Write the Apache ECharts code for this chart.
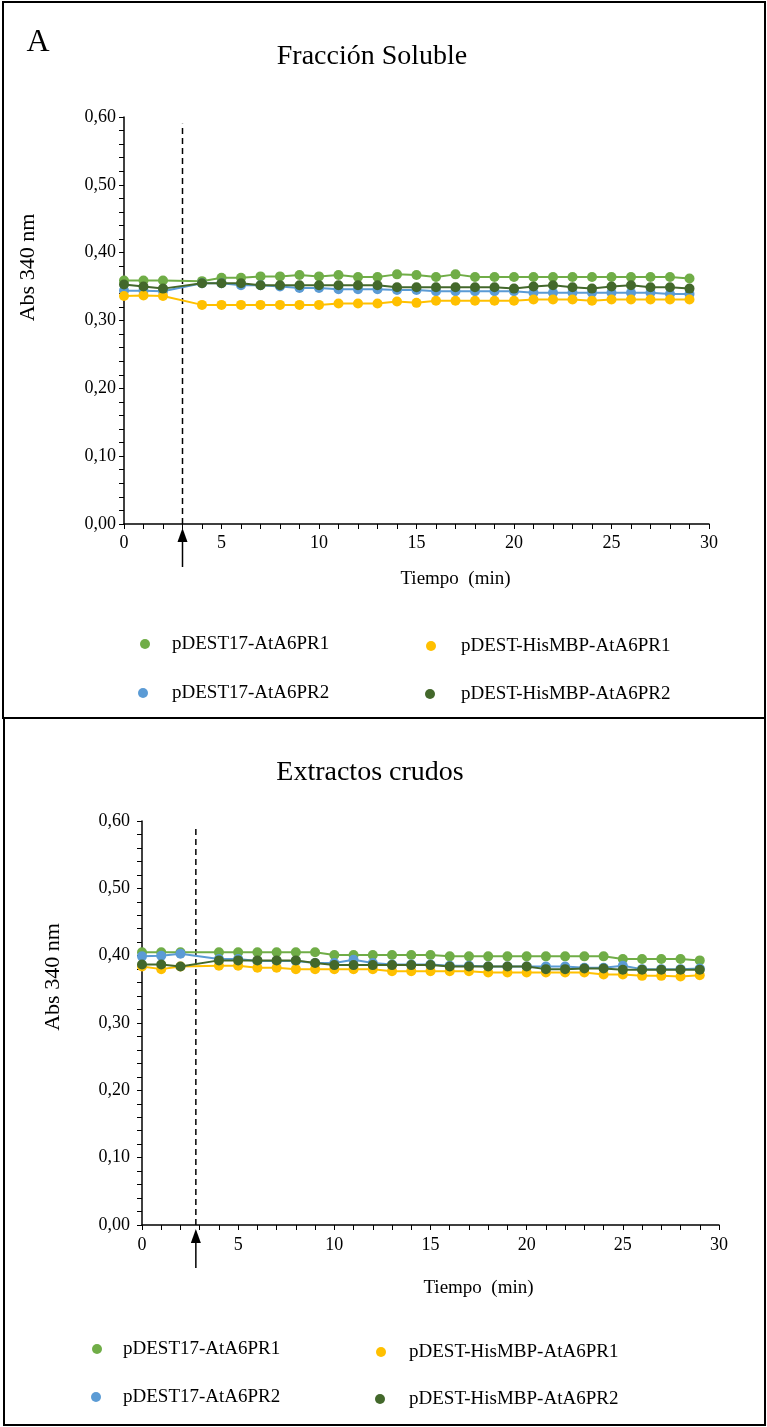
<!DOCTYPE html>
<html><head><meta charset="utf-8">
<script src="https://cdn.jsdelivr.net/npm/echarts@6/dist/echarts.min.js"></script>
<style>html,body{margin:0;padding:0;background:#fff}#c{width:767px;height:1427px}</style>
</head><body><div id="c"></div>
<script>
// ---- data ----
const times = [0,1,2,4,5,6,7,8,9,10,11,12,13,14,15,16,17,18,19,20,21,22,23,24,25,26,27,28,29];
const seriesNames = ['pDEST17-AtA6PR1','pDEST17-AtA6PR2','pDEST-HisMBP-AtA6PR1','pDEST-HisMBP-AtA6PR2'];
// Fracción Soluble
const solPDEST17_R1 = [0.359,0.359,0.359,0.358,0.363,0.363,0.365,0.365,0.367,0.365,0.367,0.364,0.364,0.368,0.367,0.364,0.368,0.364,0.364,0.364,0.364,0.364,0.364,0.364,0.364,0.364,0.364,0.364,0.362];
const solPDEST17_R2 = [0.344,0.344,0.343,0.355,0.355,0.352,0.352,0.350,0.348,0.348,0.346,0.346,0.346,0.345,0.345,0.343,0.343,0.343,0.343,0.343,0.341,0.341,0.341,0.341,0.341,0.341,0.341,0.339,0.339];
const solHisMBP_R1  = [0.336,0.337,0.336,0.323,0.323,0.323,0.323,0.323,0.323,0.323,0.325,0.325,0.325,0.328,0.326,0.329,0.329,0.329,0.329,0.329,0.331,0.331,0.331,0.329,0.331,0.331,0.331,0.331,0.331];
const solHisMBP_R2  = [0.353,0.350,0.347,0.355,0.355,0.355,0.352,0.352,0.352,0.352,0.352,0.352,0.352,0.349,0.349,0.349,0.349,0.349,0.349,0.347,0.350,0.352,0.349,0.347,0.350,0.352,0.349,0.349,0.347];
// Extractos crudos
const crudePDEST17_R1 = [0.405,0.405,0.405,0.405,0.405,0.405,0.405,0.405,0.405,0.401,0.401,0.401,0.401,0.401,0.401,0.399,0.399,0.399,0.399,0.399,0.399,0.399,0.399,0.399,0.395,0.395,0.395,0.395,0.393];
const crudePDEST17_R2 = [0.399,0.400,0.403,0.395,0.395,0.392,0.392,0.392,0.389,0.389,0.394,0.389,0.387,0.387,0.387,0.385,0.385,0.384,0.384,0.384,0.384,0.384,0.382,0.382,0.385,0.380,0.380,0.380,0.381];
const crudeHisMBP_R1  = [0.384,0.380,0.384,0.385,0.385,0.382,0.382,0.380,0.380,0.380,0.380,0.380,0.377,0.377,0.377,0.377,0.377,0.375,0.375,0.375,0.375,0.375,0.375,0.372,0.372,0.370,0.370,0.369,0.371];
const crudeHisMBP_R2  = [0.387,0.387,0.384,0.393,0.393,0.393,0.393,0.393,0.389,0.386,0.386,0.386,0.386,0.386,0.386,0.384,0.384,0.384,0.384,0.384,0.380,0.380,0.381,0.381,0.379,0.379,0.379,0.379,0.379];
const additionTime = [3, 2.8];       // dashed marker (top, bottom)
const markerTop = 0.59;
const xTicks = {min:0, max:30, interval:5};
const yTicks = {min:0, max:0.6, interval:0.1};

// ---- chart ----
const FONT = "'Liberation Serif','Times New Roman',serif";
const colors = ['#70AD47','#5B9BD5','#FFC000','#43682B'];
const panels = [
  {data:[solPDEST17_R1, solPDEST17_R2, solHisMBP_R1, solHisMBP_R2]},
  {data:[crudePDEST17_R1, crudePDEST17_R2, crudeHisMBP_R1, crudeHisMBP_R2]}
];
const chart = echarts.init(document.getElementById('c'), null, {renderer:'canvas'});
const pairs = arr => times.map((t,i)=>[t, arr[i]]);

const grids = [
  {left:124, right:58, top:117, height:407},
  {left:142, right:48, top:821, height:404}
];
function xAxis(g, nameGap, padLeft, labelMargin){
  return {gridIndex:g, type:'value', min:xTicks.min, max:xTicks.max, interval:xTicks.interval,
    axisLine:{show:true, onZero:false, lineStyle:{color:'#000', width:1.5}},
    axisTick:{show:true, inside:false, length:5, lineStyle:{color:'#000', width:1}},
    minorTick:{show:true, splitNumber:5, length:5, lineStyle:{color:'#000', width:1}},
    splitLine:{show:false}, minorSplitLine:{show:false},
    axisLabel:{color:'#000', fontFamily:FONT, fontSize:18, margin:labelMargin},
    name:'Tiempo  (min)', nameLocation:'middle', nameGap:nameGap,
    nameTextStyle:{color:'#000', fontFamily:FONT, fontSize:19, padding:[0,0,0,padLeft]}};
}
function yAxis(g, nameGap, padLeft, labelMargin){
  return {gridIndex:g, type:'value', min:yTicks.min, max:yTicks.max, interval:yTicks.interval,
    axisLine:{show:true, onZero:false, lineStyle:{color:'#000', width:1.5}},
    axisTick:{show:true, inside:false, length:5, lineStyle:{color:'#000', width:1}},
    minorTick:{show:true, splitNumber:5, length:5, lineStyle:{color:'#000', width:1}},
    splitLine:{show:false}, minorSplitLine:{show:false},
    axisLabel:{color:'#000', fontFamily:FONT, fontSize:18, margin:labelMargin,
      formatter: v => v.toFixed(2).replace('.', ',')},
    name:'Abs 340 nm', nameLocation:'middle', nameGap:nameGap,
    nameTextStyle:{color:'#000', fontFamily:FONT, fontSize:22, padding:[0,0,0,padLeft]}};
}

const series = [];
panels.forEach((p, g) => {
  series.push({type:'line', xAxisIndex:g, yAxisIndex:g, silent:true, symbol:'none', z:1,
    data:[[additionTime[g],0],[additionTime[g],markerTop]],
    lineStyle:{color:'#000', width:1.5, type:[6,4]}});
  p.data.forEach((arr, k) => {
    series.push({type:'line', name:seriesNames[k], xAxisIndex:g, yAxisIndex:g,
      data:pairs(arr), symbol:'circle', symbolSize:10, showSymbol:true,
      itemStyle:{color:colors[k]}, lineStyle:{color:colors[k], width:2}, z:2+k});
  });
});

function leg(name, iconLeft, textLeft, centerY, extraTop){
  return {data:[name], left:iconLeft, top:centerY-10-(extraTop||0)/2, padding:0, icon:'circle',
    itemWidth:10, itemHeight:10, selectedMode:false,
    textStyle:{fontFamily:FONT, fontSize:19, color:'#000', lineHeight:20,
      padding:[extraTop||0,0,0,textLeft-iconLeft-15]}};
}
const legends = [
  leg(seriesNames[0], 140, 172, 644),
  leg(seriesNames[2], 426, 461, 646, 6),
  leg(seriesNames[1], 138, 172, 693),
  leg(seriesNames[3], 425, 461, 694, 6),
  leg(seriesNames[0], 92, 123, 1349),
  leg(seriesNames[2], 376, 409, 1352, 6),
  leg(seriesNames[1], 91, 123, 1397),
  leg(seriesNames[3], 375, 409, 1399, 6)
];

chart.setOption({
  animation:false,
  backgroundColor:'#fff',
  grid:grids,
  xAxis:[xAxis(0, 46, 78, 10), xAxis(1, 54, 96, 11)],
  yAxis:[yAxis(0, 85, 106, 8), yAxis(1, 78, 92, 12)],
  legend:legends,
  series:series
});

// graphics: panel borders, titles, arrows (positions from the axes)
const gfx = [
  {type:'rect', shape:{x:3, y:2, width:762, height:716}, style:{fill:'none', stroke:'#000', lineWidth:2}},
  {type:'rect', shape:{x:4, y:718, width:761, height:707}, style:{fill:'none', stroke:'#000', lineWidth:2}},
  {type:'text', x:38, y:43, style:{text:'A', font:"32px "+FONT, fill:'#000', textAlign:'center', textVerticalAlign:'middle'}},
  {type:'text', x:372, y:57, style:{text:'Fracción Soluble', font:"28px "+FONT, fill:'#000', textAlign:'center', textVerticalAlign:'middle'}},
  {type:'text', x:370, y:773, style:{text:'Extractos crudos', font:"28px "+FONT, fill:'#000', textAlign:'center', textVerticalAlign:'middle'}}
];
[0,1].forEach(g => {
  const p = chart.convertToPixel({xAxisIndex:g, yAxisIndex:g}, [additionTime[g], 0]);
  const x = p[0], y = p[1];
  gfx.push({type:'line', shape:{x1:x, y1:y+16, x2:x, y2:y+43}, style:{stroke:'#000', lineWidth:1.5}});
  gfx.push({type:'polygon', shape:{points:[[x, y+4],[x-5, y+18],[x+5, y+18]]}, style:{fill:'#000'}});
});
chart.setOption({graphic:gfx});
</script>
</body></html>
